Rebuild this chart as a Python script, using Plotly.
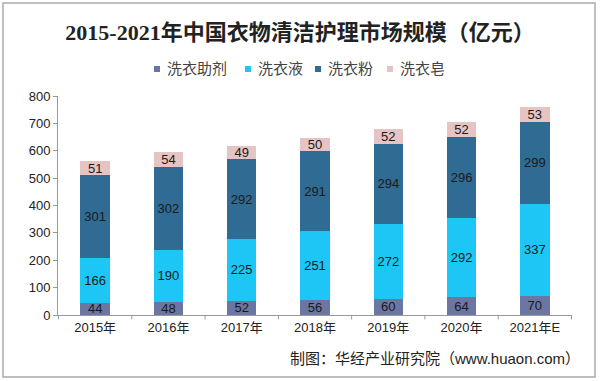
import plotly.graph_objects as go

years = ["2015年", "2016年", "2017年", "2018年", "2019年", "2020年", "2021年E"]
zhuji = [44, 48, 52, 56, 60, 64, 70]
yeti = [166, 190, 225, 251, 272, 292, 337]
fen = [301, 302, 292, 291, 294, 296, 299]
zao = [51, 54, 49, 50, 52, 52, 53]

series = [
    ("洗衣助剂", zhuji, "#6B76A3"),
    ("洗衣液", yeti, "#1DC6F4"),
    ("洗衣粉", fen, "#2F6B93"),
    ("洗衣皂", zao, "#E7C4C4"),
]
legend_px = [157, 248, 318, 390]

FONT = "Liberation Sans, Arial, Noto Sans CJK SC, sans-serif"

fig = go.Figure()
for name, vals, col in series:
    fig.add_trace(go.Bar(
        x=years, y=vals, name=name, marker=dict(color=col, line=dict(width=0)),
        text=[str(v) for v in vals], textposition="inside", insidetextanchor="middle",
        textangle=0, showlegend=False,
        textfont=dict(size=13, color="#1a1a1a", family=FONT),
        constraintext="none",
    ))

pw, ph = 514, 219


def px_x(p):
    return (p - 58) / pw


def px_y(p):
    return (315 - p) / ph


shapes = [dict(type="rect", xref="paper", yref="paper",
               x0=px_x(3), x1=px_x(595), y0=px_y(377), y1=px_y(3),
               line=dict(color="#aaa", width=1.5), fillcolor="rgba(0,0,0,0)", layer="below")]
shapes += [dict(type="line", xref="x", yref="paper", x0=i + 0.5, x1=i + 0.5, y0=0, y1=-0.02,
                line=dict(color="#999", width=1)) for i in range(-1, 7)]
annotations = [dict(text="制图：华经产业研究院（www.huaon.com）", xref="paper", yref="paper",
                    x=px_x(582), y=px_y(358), xanchor="right", yanchor="middle",
                    showarrow=False, font=dict(size=15, color="#222"))]
for (name, vals, col), lx in zip(series, legend_px):
    shapes.append(dict(type="rect", xref="paper", yref="paper",
                       x0=px_x(lx - 3), x1=px_x(lx + 3), y0=px_y(72), y1=px_y(66),
                       line=dict(width=0), fillcolor=col))
    annotations.append(dict(text=name, xref="paper", yref="paper", x=px_x(lx + 8), y=px_y(69),
                            xanchor="left", yanchor="middle", showarrow=False,
                            font=dict(size=15, color="#444")))

fig.update_layout(
    barmode="stack",
    bargap=0.6,
    width=600, height=381,
    margin=dict(l=58, r=28, t=96, b=66),
    paper_bgcolor="white", plot_bgcolor="white",
    font=dict(family=FONT, color="#333"),
    showlegend=False,
    title=dict(text="<b>2015-2021年中国衣物清洁护理市场规模（亿元）</b>",
               x=0.5, xanchor="center", y=1 - 32 / 381, yanchor="middle",
               font=dict(size=22, color="#222", family="Liberation Serif, Noto Sans CJK SC, serif")),
    xaxis=dict(showline=True, linecolor="#999", linewidth=1, ticks="", showgrid=False,
               tickfont=dict(size=13, color="#222")),
    yaxis=dict(range=[0, 800], dtick=100, showline=True, linecolor="#999", linewidth=1,
               ticks="outside", ticklen=4, tickcolor="#999", showgrid=False, zeroline=False,
               tickfont=dict(size=13, color="#222")),
    shapes=shapes,
    annotations=annotations,
)

fig.write_html("out.html", config={"displayModeBar": False},
               post_script="document.body.style.margin='0';")
